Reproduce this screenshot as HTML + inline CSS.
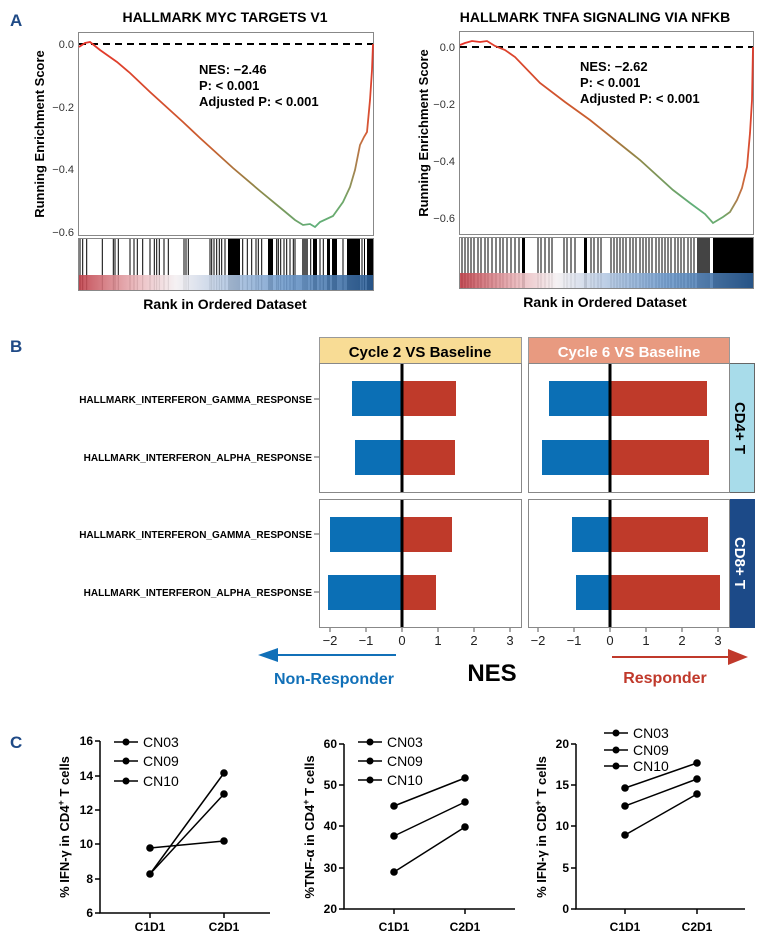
<!DOCTYPE html>
<html><head><meta charset="utf-8"><style>
body{margin:0;background:#fff;}
svg{display:block;font-family:"Liberation Sans",Arial,sans-serif;}
.b{font-weight:bold;}
</style></head><body>
<svg width="765" height="942" viewBox="0 0 765 942" xmlns="http://www.w3.org/2000/svg">
<defs>
<linearGradient id="cg" x1="0" x2="1" y1="0" y2="0">
<stop offset="0" stop-color="#e8322a"/><stop offset="0.45" stop-color="#c8602f"/><stop offset="0.62" stop-color="#8a8a4a"/><stop offset="0.8" stop-color="#5fb07a"/><stop offset="0.9" stop-color="#6ea86a"/><stop offset="0.97" stop-color="#d0663a"/><stop offset="1" stop-color="#e03a2a"/>
</linearGradient>
<linearGradient id="sg" x1="0" x2="1" y1="0" y2="0">
<stop offset="0" stop-color="#c0404a"/><stop offset="0.2" stop-color="#eab8bc"/><stop offset="0.33" stop-color="#f4f0f2"/><stop offset="0.5" stop-color="#b4c8e2"/><stop offset="0.7" stop-color="#6f9acb"/><stop offset="1" stop-color="#2b5d95"/>
</linearGradient>
</defs>
<g id="A">
<text x="10" y="26" class="b" font-size="17" fill="#1f4a86">A</text>
<text x="225" y="22" class="b" font-size="14" text-anchor="middle">HALLMARK MYC TARGETS V1</text>
<text x="595" y="22" class="b" font-size="14" text-anchor="middle">HALLMARK TNFA SIGNALING VIA NFKB</text>
<rect x="78.5" y="32.5" width="295" height="203" fill="none" stroke="#888"/>
<line x1="79" y1="44" x2="373" y2="44" stroke="#000" stroke-width="2" stroke-dasharray="7,5"/>
<g font-size="11" fill="#333" text-anchor="end"><text x="74" y="48">0.0</text><text x="74" y="111">−0.2</text><text x="74" y="173">−0.4</text><text x="74" y="236">−0.6</text></g>
<text transform="translate(44,134) rotate(-90)" class="b" font-size="13" text-anchor="middle">Running Enrichment Score</text>
<polyline fill="none" stroke="url(#cg)" stroke-width="1.8" points="79,47 85,43 90,42 100,50 117,62 130,73 150,92 183,122 200,138 233,168 260,191 283,210 295,220 303,225 310,224 315,227 320,222 333,216 343,202 350,187 355,170 360,145 364,137 367,132 370,100 372,70 373,44"/>
<text x="199" y="74" class="b" font-size="13">NES: −2.46</text>
<text x="199" y="90" class="b" font-size="13">P: &lt; 0.001</text>
<text x="199" y="106" class="b" font-size="13">Adjusted P: &lt; 0.001</text>
<path stroke="#000" stroke-width="1" fill="none" d="M80,239V290M82.7,239V290M86.7,239V290M102.3,239V290M113.3,239V290M115,239V290M118.3,239V290M130,239V290M134,239V290M137.3,239V290M142.7,239V290M150,239V290M154.3,239V290M156.7,239V290M159.3,239V290M164,239V290M168.3,239V290M184,239V290M186,239V290M188.3,239V290M210,239V290M211.7,239V290M214,239V290M216.7,239V290M219.3,239V290M221.7,239V290M225,239V290M242.7,239V290M247.3,239V290M251.7,239V290M256,239V290M258.3,239V290M261.7,239V290M276.7,239V290M278.3,239V290M280.7,239V290M284,239V290M286.7,239V290M290,239V290M293.3,239V290M295,239V290M310.7,239V290M320,239V290M323.3,239V290M343,239V290M362,239V290M364.5,239V290"/>
<g fill="#000"><rect x="228" y="239" width="12" height="51"/><rect x="268" y="239" width="5" height="51"/><rect x="302" y="239" width="6" height="51" fill="#555"/><rect x="313" y="239" width="4" height="51"/><rect x="327" y="239" width="3" height="51"/><rect x="332" y="239" width="5" height="51"/><rect x="347" y="239" width="13" height="51"/><rect x="367" y="239" width="6" height="51"/></g>
<rect x="79" y="275" width="294" height="15" fill="url(#sg)" opacity="0.9"/>
<rect x="78.5" y="238.5" width="295" height="52" fill="none" stroke="#888"/>
<text x="225" y="309" class="b" font-size="14" text-anchor="middle">Rank in Ordered Dataset</text>
<rect x="459.5" y="31.5" width="294" height="203" fill="none" stroke="#888"/>
<line x1="460" y1="47" x2="753" y2="47" stroke="#000" stroke-width="2" stroke-dasharray="7,5"/>
<g font-size="11" fill="#333" text-anchor="end"><text x="455" y="51">0.0</text><text x="455" y="108">−0.2</text><text x="455" y="165">−0.4</text><text x="455" y="222">−0.6</text></g>
<text transform="translate(428,133) rotate(-90)" class="b" font-size="13" text-anchor="middle">Running Enrichment Score</text>
<polyline fill="none" stroke="url(#cg)" stroke-width="1.8" points="460,45 465,43 472,41 480,42 487,41 495,46 505,50 515,57 540,83 565,102 590,120 615,140 640,160 673,190 690,203 705,214 713,223 718,220 723,217 730,212 737,200 742,188 747,167 750,133 752,100 753,47"/>
<text x="580" y="71" class="b" font-size="13">NES: −2.62</text>
<text x="580" y="87" class="b" font-size="13">P: &lt; 0.001</text>
<text x="580" y="103" class="b" font-size="13">Adjusted P: &lt; 0.001</text>
<path stroke="#000" stroke-width="1" fill="none" d="M462,238V288M465,238V288M468,238V288M471,238V288M474,238V288M478,238V288M481,238V288M485,238V288M488,238V288M492,238V288M496,238V288M500,238V288M503,238V288M507,238V288M511,238V288M515,238V288M519,238V288M538,238V288M541,238V288M545,238V288M549,238V288M552,238V288M564,238V288M567,238V288M571,238V288M575,238V288M591,238V288M594,238V288M598,238V288M601,238V288M611,238V288M614,238V288M617,238V288M620,238V288M623,238V288M626,238V288M630,238V288M633,238V288M636,238V288M640,238V288M643,238V288M646,238V288M649,238V288M652,238V288M656,238V288M659,238V288M662,238V288M665,238V288M668,238V288M671,238V288M675,238V288M678,238V288M681,238V288M684,238V288M688,238V288M691,238V288M694,238V288"/>
<g><rect x="697" y="238" width="13" height="50" fill="#444"/><rect x="713" y="238" width="40" height="50" fill="#000"/><rect x="522" y="238" width="3" height="50" fill="#000"/><rect x="584" y="238" width="3" height="50" fill="#000"/></g>
<rect x="460" y="273" width="293" height="15" fill="url(#sg)" opacity="0.9"/>
<rect x="459.5" y="237.5" width="294" height="51" fill="none" stroke="#888"/>
<text x="605" y="307" class="b" font-size="14" text-anchor="middle">Rank in Ordered Dataset</text>
</g>

<g id="B">
<text x="10" y="352" class="b" font-size="17" fill="#1f4a86">B</text>
<rect x="319.5" y="337.5" width="202" height="26" fill="#f8dc95" stroke="#999"/>
<text x="420" y="357" class="b" font-size="15" text-anchor="middle">Cycle 2 VS Baseline</text>
<rect x="528.5" y="337.5" width="201" height="26" fill="#e89a80" stroke="#999"/>
<text x="629" y="357" class="b" font-size="15" text-anchor="middle" fill="#fff">Cycle 6 VS Baseline</text>
<rect x="729.5" y="363.5" width="25" height="129" fill="#a8dcea" stroke="#666"/>
<text transform="translate(735,428) rotate(90)" class="b" font-size="15" text-anchor="middle">CD4+ T</text>
<rect x="729.5" y="499.5" width="25" height="128" fill="#1c4a88" stroke="#1c4a88"/>
<text transform="translate(735,563) rotate(90)" class="b" font-size="15" text-anchor="middle" fill="#fff">CD8+ T</text>
<g fill="#0b6fb5">
<rect x="352" y="381" width="50" height="35"/><rect x="355" y="440" width="47" height="35"/>
<rect x="330" y="517" width="72" height="35"/><rect x="328" y="575" width="74" height="35"/>
<rect x="549" y="381" width="61" height="35"/><rect x="542" y="440" width="68" height="35"/>
<rect x="572" y="517" width="38" height="35"/><rect x="576" y="575" width="34" height="35"/>
</g>
<g fill="#bf3a2a">
<rect x="402" y="381" width="54" height="35"/><rect x="402" y="440" width="53" height="35"/>
<rect x="402" y="517" width="50" height="35"/><rect x="402" y="575" width="34" height="35"/>
<rect x="610" y="381" width="97" height="35"/><rect x="610" y="440" width="99" height="35"/>
<rect x="610" y="517" width="98" height="35"/><rect x="610" y="575" width="110" height="35"/>
</g>
<g fill="none" stroke="#888">
<rect x="319.5" y="363.5" width="202" height="129"/><rect x="528.5" y="363.5" width="201" height="129"/>
<rect x="319.5" y="499.5" width="202" height="128"/><rect x="528.5" y="499.5" width="201" height="128"/>
</g>
<g stroke="#000" stroke-width="3"><line x1="402" y1="364" x2="402" y2="492"/><line x1="610" y1="364" x2="610" y2="492"/><line x1="402" y1="500" x2="402" y2="627"/><line x1="610" y1="500" x2="610" y2="627"/></g>
<g class="b" font-size="10" text-anchor="end">
<text x="312" y="403">HALLMARK_INTERFERON_GAMMA_RESPONSE</text>
<text x="312" y="461">HALLMARK_INTERFERON_ALPHA_RESPONSE</text>
<text x="312" y="538">HALLMARK_INTERFERON_GAMMA_RESPONSE</text>
<text x="312" y="596">HALLMARK_INTERFERON_ALPHA_RESPONSE</text>
</g>
<g stroke="#555"><line x1="314" y1="399" x2="319" y2="399"/><line x1="314" y1="457" x2="319" y2="457"/><line x1="314" y1="534" x2="319" y2="534"/><line x1="314" y1="592" x2="319" y2="592"/></g>
<g font-size="13" text-anchor="middle" fill="#222">
<text x="330" y="645">−2</text><text x="366" y="645">−1</text><text x="402" y="645">0</text><text x="438" y="645">1</text><text x="474" y="645">2</text><text x="510" y="645">3</text>
<text x="538" y="645">−2</text><text x="574" y="645">−1</text><text x="610" y="645">0</text><text x="646" y="645">1</text><text x="682" y="645">2</text><text x="718" y="645">3</text>
</g>
<g stroke="#555"><line x1="330" y1="628" x2="330" y2="632"/><line x1="366" y1="628" x2="366" y2="632"/><line x1="402" y1="628" x2="402" y2="632"/><line x1="438" y1="628" x2="438" y2="632"/><line x1="474" y1="628" x2="474" y2="632"/><line x1="510" y1="628" x2="510" y2="632"/><line x1="538" y1="628" x2="538" y2="632"/><line x1="574" y1="628" x2="574" y2="632"/><line x1="610" y1="628" x2="610" y2="632"/><line x1="646" y1="628" x2="646" y2="632"/><line x1="682" y1="628" x2="682" y2="632"/><line x1="718" y1="628" x2="718" y2="632"/></g>
<line x1="396" y1="655" x2="274" y2="655" stroke="#1170b8" stroke-width="2"/>
<polygon points="258,655 278,648 278,662" fill="#1170b8"/>
<text x="334" y="684" class="b" font-size="16" fill="#1170b8" text-anchor="middle">Non-Responder</text>
<text x="492" y="681" class="b" font-size="24" text-anchor="middle">NES</text>
<line x1="612" y1="657" x2="732" y2="657" stroke="#c0392b" stroke-width="2"/>
<polygon points="748,657 728,649 728,665" fill="#c0392b"/>
<text x="665" y="683" class="b" font-size="16" fill="#c0392b" text-anchor="middle">Responder</text>
</g>

<g id="C">
<text x="10" y="748" class="b" font-size="17" fill="#1f4a86">C</text>
<g stroke="#000" stroke-width="1.5" fill="none"><polyline points="100,741 100,913 270,913"/></g>
<g stroke="#000" stroke-width="1.5"><line x1="95" y1="741" x2="100" y2="741"/><line x1="95" y1="776" x2="100" y2="776"/><line x1="95" y1="810" x2="100" y2="810"/><line x1="95" y1="844" x2="100" y2="844"/><line x1="95" y1="879" x2="100" y2="879"/><line x1="95" y1="913" x2="100" y2="913"/><line x1="150" y1="913" x2="150" y2="918"/><line x1="224" y1="913" x2="224" y2="918"/></g>
<g class="b" font-size="12" text-anchor="end"><text x="93" y="745">16</text><text x="93" y="780">14</text><text x="93" y="814">12</text><text x="93" y="848">10</text><text x="93" y="883">8</text><text x="93" y="917">6</text></g>
<g class="b" font-size="12" text-anchor="middle"><text x="150" y="931">C1D1</text><text x="224" y="931">C2D1</text></g>
<text transform="translate(69,827) rotate(-90)" class="b" font-size="13" text-anchor="middle">% IFN-γ in CD4<tspan font-size="9" dy="-5">+</tspan><tspan dy="5"> T cells</tspan></text>
<g stroke="#000" stroke-width="1.5"><line x1="150" y1="848" x2="224" y2="841"/><line x1="150" y1="874" x2="224" y2="773"/><line x1="150" y1="874" x2="224" y2="794"/></g>
<g fill="#000"><circle cx="150" cy="848" r="3.8"/><circle cx="150" cy="874" r="3.8"/><circle cx="224" cy="841" r="3.8"/><circle cx="224" cy="773" r="3.8"/><circle cx="224" cy="794" r="3.8"/></g>
<g stroke="#000" stroke-width="1.5" fill="none"><polyline points="344,744 344,909 515,909"/></g>
<g stroke="#000" stroke-width="1.5"><line x1="339" y1="744" x2="344" y2="744"/><line x1="339" y1="785" x2="344" y2="785"/><line x1="339" y1="826" x2="344" y2="826"/><line x1="339" y1="868" x2="344" y2="868"/><line x1="339" y1="909" x2="344" y2="909"/><line x1="394" y1="909" x2="394" y2="914"/><line x1="465" y1="909" x2="465" y2="914"/></g>
<g class="b" font-size="12" text-anchor="end"><text x="337" y="748">60</text><text x="337" y="789">50</text><text x="337" y="830">40</text><text x="337" y="872">30</text><text x="337" y="913">20</text></g>
<g class="b" font-size="12" text-anchor="middle"><text x="394" y="931">C1D1</text><text x="465" y="931">C2D1</text></g>
<text transform="translate(314,827) rotate(-90)" class="b" font-size="13" text-anchor="middle">%TNF-α in CD4<tspan font-size="9" dy="-5">+</tspan><tspan dy="5"> T cells</tspan></text>
<g stroke="#000" stroke-width="1.5"><line x1="394" y1="806" x2="465" y2="778"/><line x1="394" y1="836" x2="465" y2="802"/><line x1="394" y1="872" x2="465" y2="827"/></g>
<g fill="#000"><circle cx="394" cy="806" r="3.8"/><circle cx="394" cy="836" r="3.8"/><circle cx="394" cy="872" r="3.8"/><circle cx="465" cy="778" r="3.8"/><circle cx="465" cy="802" r="3.8"/><circle cx="465" cy="827" r="3.8"/></g>
<g stroke="#000" stroke-width="1.5" fill="none"><polyline points="576,744 576,909 745,909"/></g>
<g stroke="#000" stroke-width="1.5"><line x1="571" y1="744" x2="576" y2="744"/><line x1="571" y1="785" x2="576" y2="785"/><line x1="571" y1="826" x2="576" y2="826"/><line x1="571" y1="868" x2="576" y2="868"/><line x1="571" y1="909" x2="576" y2="909"/><line x1="625" y1="909" x2="625" y2="914"/><line x1="697" y1="909" x2="697" y2="914"/></g>
<g class="b" font-size="12" text-anchor="end"><text x="569" y="748">20</text><text x="569" y="789">15</text><text x="569" y="830">10</text><text x="569" y="872">5</text><text x="569" y="913">0</text></g>
<g class="b" font-size="12" text-anchor="middle"><text x="625" y="931">C1D1</text><text x="697" y="931">C2D1</text></g>
<text transform="translate(546,827) rotate(-90)" class="b" font-size="13" text-anchor="middle">% IFN-γ in CD8<tspan font-size="9" dy="-5">+</tspan><tspan dy="5"> T cells</tspan></text>
<g stroke="#000" stroke-width="1.5"><line x1="625" y1="788" x2="697" y2="763"/><line x1="625" y1="806" x2="697" y2="779"/><line x1="625" y1="835" x2="697" y2="794"/></g>
<g fill="#000"><circle cx="625" cy="788" r="3.8"/><circle cx="625" cy="806" r="3.8"/><circle cx="625" cy="835" r="3.8"/><circle cx="697" cy="763" r="3.8"/><circle cx="697" cy="779" r="3.8"/><circle cx="697" cy="794" r="3.8"/></g>
<g stroke="#000" stroke-width="1.5"><line x1="114" y1="742" x2="138" y2="742"/><line x1="114" y1="761" x2="138" y2="761"/><line x1="114" y1="781" x2="138" y2="781"/>
<line x1="358" y1="742" x2="382" y2="742"/><line x1="358" y1="761" x2="382" y2="761"/><line x1="358" y1="780" x2="382" y2="780"/>
<line x1="604" y1="733" x2="628" y2="733"/><line x1="604" y1="750" x2="628" y2="750"/><line x1="604" y1="766" x2="628" y2="766"/></g>
<g fill="#000"><circle cx="126" cy="742" r="3.5"/><circle cx="126" cy="761" r="3.5"/><circle cx="126" cy="781" r="3.5"/><circle cx="370" cy="742" r="3.5"/><circle cx="370" cy="761" r="3.5"/><circle cx="370" cy="780" r="3.5"/><circle cx="616" cy="733" r="3.5"/><circle cx="616" cy="750" r="3.5"/><circle cx="616" cy="766" r="3.5"/></g>
<g font-size="14"><text x="143" y="747">CN03</text><text x="143" y="766">CN09</text><text x="143" y="786">CN10</text>
<text x="387" y="747">CN03</text><text x="387" y="766">CN09</text><text x="387" y="785">CN10</text>
<text x="633" y="738">CN03</text><text x="633" y="755">CN09</text><text x="633" y="771">CN10</text></g>
</g>
</svg>
</body></html>
